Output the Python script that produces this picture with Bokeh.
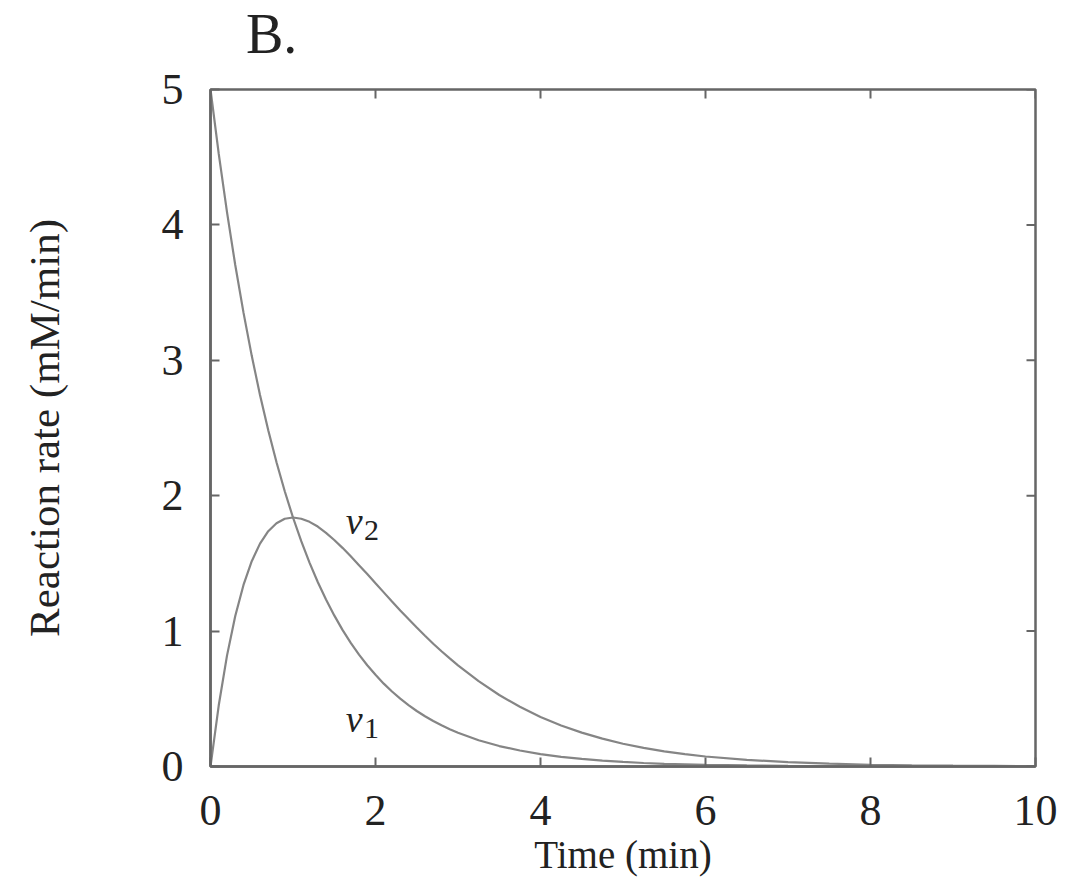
import math
from bokeh.plotting import figure
from bokeh.models import Range1d, FixedTicker, Div
from bokeh.layouts import column
from bokeh.core.properties import value
from bokeh.embed import file_html
from bokeh.resources import INLINE

# Data
t = [0.0, 0.1, 0.2, 0.3, 0.4, 0.5, 0.6, 0.7, 0.8, 0.9,
     1.0, 1.1, 1.2, 1.3, 1.4, 1.5, 1.6, 1.7, 1.8, 1.9,
     2.0, 2.1, 2.2, 2.3, 2.4, 2.5, 2.6, 2.7, 2.8, 2.9,
     3.0, 3.25, 3.5, 3.75, 4.0, 4.25, 4.5, 4.75, 5.0, 5.25,
     5.5, 5.75, 6.0, 6.5, 7.0, 7.5, 8.0, 8.5, 9.0, 9.5, 10.0]
v1 = [5.000, 4.524, 4.094, 3.704, 3.352, 3.033, 2.744, 2.483, 2.247, 2.033,
      1.839, 1.664, 1.506, 1.363, 1.233, 1.116, 1.009, 0.913, 0.826, 0.748,
      0.677, 0.612, 0.554, 0.501, 0.454, 0.410, 0.371, 0.336, 0.304, 0.275,
      0.249, 0.194, 0.151, 0.118, 0.092, 0.071, 0.056, 0.043, 0.034, 0.026,
      0.020, 0.016, 0.012, 0.008, 0.005, 0.003, 0.002, 0.001, 0.001, 0.000, 0.000]
v2 = [0.000, 0.452, 0.819, 1.111, 1.341, 1.516, 1.646, 1.738, 1.797, 1.830,
      1.839, 1.830, 1.807, 1.772, 1.726, 1.673, 1.615, 1.552, 1.487, 1.421,
      1.353, 1.286, 1.219, 1.153, 1.089, 1.026, 0.966, 0.907, 0.851, 0.798,
      0.747, 0.631, 0.528, 0.441, 0.366, 0.303, 0.250, 0.206, 0.168, 0.137,
      0.112, 0.091, 0.074, 0.049, 0.032, 0.021, 0.013, 0.009, 0.006, 0.004, 0.002]
x_ticks = [0, 2, 4, 6, 8, 10]
y_ticks = [0, 1, 2, 3, 4, 5]
curve_labels = ["v", "v"]
curve_subs = ["1", "2"]
label_x = [1.64, 1.64]
label_y = [0.35, 1.81]
panel_title = "B."

SERIF = "Liberation Serif"
AX = "#666666"
LINE = "#858585"
TXT = "#222222"

x0, x1 = x_ticks[0], x_ticks[-1]
y0, y1 = y_ticks[0], y_ticks[-1]

p = figure(output_backend="svg", toolbar_location=None,
           frame_width=825, frame_height=677,
           min_border_left=210, min_border_top=29, min_border_right=36, min_border_bottom=112,
           x_range=Range1d(x0, x1), y_range=Range1d(y0, y1))
p.grid.visible = False
p.outline_line_color = AX
p.outline_line_width = 2.5
p.background_fill_color = "white"
p.border_fill_color = "white"

p.line(t, v1, line_color=LINE, line_width=2.2)
p.line(t, v2, line_color=LINE, line_width=2.2)

# mirrored inward ticks on top and right
p.ray(x=x_ticks, y=[y1] * len(x_ticks), length=9, length_units="screen",
      angle=-math.pi / 2, line_color=AX, line_width=2)
p.ray(x=[x1] * len(y_ticks), y=y_ticks, length=9, length_units="screen",
      angle=math.pi, line_color=AX, line_width=2)

p.text(x=label_x, y=label_y, text=curve_labels, text_font=value(SERIF),
       text_font_style="italic", text_font_size="38px", text_color=TXT,
       text_baseline="alphabetic", text_align="left")
p.text(x=[lx + 0.22 for lx in label_x], y=[ly - 0.07 for ly in label_y], text=curve_subs,
       text_font=value(SERIF), text_font_size="30px", text_color=TXT,
       text_baseline="alphabetic", text_align="left")

def style(ax):
    ax.axis_line_color = AX
    ax.axis_line_width = 2.5
    ax.major_tick_line_color = AX
    ax.major_tick_line_width = 2
    ax.major_tick_in = 9
    ax.major_tick_out = 0
    ax.minor_tick_line_color = None
    ax.major_label_text_font = SERIF
    ax.major_label_text_font_size = "44px"
    ax.major_label_text_color = TXT
    ax.axis_label_text_font = SERIF
    ax.axis_label_text_font_style = "normal"
    ax.axis_label_text_color = TXT

xa = p.xaxis[0]
ya = p.yaxis[0]
xa.ticker = FixedTicker(ticks=x_ticks)
ya.ticker = FixedTicker(ticks=y_ticks)
style(xa)
style(ya)
xa.axis_label = "Time (min)"
ya.axis_label = "Reaction rate (mM/min)"
xa.axis_label_text_font_size = "39px"
ya.axis_label_text_font_size = "43px"
xa.major_label_standoff = 29
xa.axis_label_standoff = 5
ya.major_label_standoff = 27
ya.axis_label_standoff = 91

# panel title "B." above the plot
head = Div(text=panel_title, width=1071, height=60, margin=(0, 0, 0, 0),
           styles={"font-family": SERIF, "font-size": "56px", "line-height": "56px",
                   "color": TXT, "padding-left": "246px", "padding-top": "6px",
                   "box-sizing": "border-box"})

layout = column(head, p, spacing=0)
open("out.html", "w").write(file_html(layout, INLINE))
